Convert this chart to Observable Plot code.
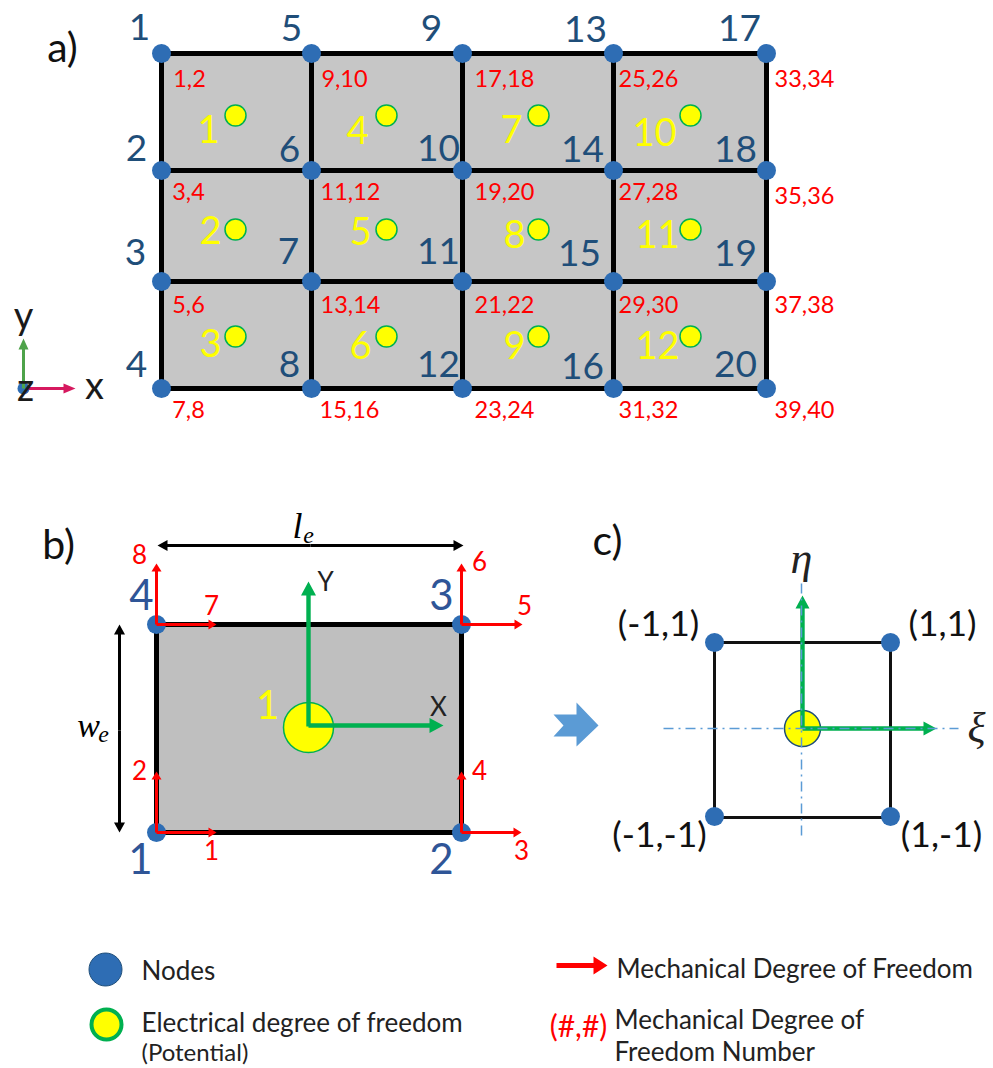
<!DOCTYPE html>
<html><head><meta charset="utf-8">
<script src="https://cdn.jsdelivr.net/npm/d3@7"></script>
<script src="https://cdn.jsdelivr.net/npm/@observablehq/plot@0.6"></script>
<style>html,body{margin:0;padding:0;background:#fff}svg{display:block}</style>
</head><body>
<div id="chart"></div>
<script>
// ---- panel a
const gridX = [161, 311, 462, 613, 766];
const gridY = [53, 170, 281, 388];
const centreX = [235, 386, 538, 690];
const centreY = [115, 229, 336];
const nodeLabelsA = [
  ["1",139,28],["5",291,29],["9",431,29],["13",585,30],["17",739,29],
  ["2",136,149],["6",289,150],["10",438,149],["14",582,150],["18",735,150],
  ["3",135,253],["7",288,252],["11",438,252],["15",579,254],["19",735,254],
  ["4",136,365],["8",289,365],["12",438,365],["16",582,367],["20",735,365]];
const dofLabelsA = [
  ["1,2",189,79],["9,10",344,79],["17,18",504,79],["25,26",648,79],["33,34",804,79],
  ["3,4",188,192],["11,12",350,192],["19,20",504,192],["27,28",648,192],["35,36",804,196],
  ["5,6",188,305],["13,14",350,305],["21,22",504,305],["29,30",648,305],["37,38",804,305],
  ["7,8",188,410],["15,16",349,410],["23,24",504,410],["31,32",648,410],["39,40",804,410]];
const elementLabels = [
  ["1",208,130],["2",210,231],["3",210,344],["4",357,131],["5",360,232],["6",360,346],
  ["7",511,130],["8",514,235],["9",514,346],["10",654,133],["11",657,235],["12",657,346]];
const triadLabels = [["y",23,316],["z",25,388],["x",94,386]];
const panelLetters = [["a)",62,48],["b)",58,545],["c)",607,541]];
// ---- panel b
const elemB = {x1:156, x2:461, y1:624, y2:832};
const nodesB = [[156,624],[461,624],[156,832],[461,832]];
const nodeLabelsB = [["4",141,596],["3",441,596],["1",140,860],["2",441,860]];
const redArrowsB = [
  [156,624,156,563],[156,624,216,624],[461,624,461,563],[461,624,522,624],
  [156,832,156,771],[156,832,216,832],[461,832,461,771],[461,832,521,832]];
const redLabelsB = [
  ["8",139,555],["7",211,606],["6",479,562],["5",524,606],
  ["2",139,771],["1",211,851],["4",479,771],["3",521,851]];
const greenArrowsB = [[308,726,308,581],[308,725,443,725]];
const blackArrows = [[310,545,157,545],[310,545,463,545],[119,730,119,624],[119,730,119,832]];
const axisLabelsB = [["Y",325,582],["X",438,707]];
// ---- panel c
const elemC = {x1:714, x2:890, y1:642, y2:817};
const nodesC = [[714,642],[890,642],[714,816],[890,816]];
const coordLabels = [["(-1,1)",658,624],["(1,1)",942,624],["(-1,-1)",659,835],["(1,-1)",941,835]];
const greenArrowsC = [[802,728,802,595],[802,728,936,728]];
const dashLines = [[663,728,958,728],[801,583,801,838]];
const bigArrow = [[553,714],[576,714],[576,702],[598,725],[576,746],[576,736],[553,736],[563,725]];
// ---- legend
const legendLeft = [["Nodes",141,971],["Electrical degree of freedom",141,1023]];
const legendLeftLine2 = [["(Potential)",141,1053]];
const legendRight = [["Mechanical Degree of Freedom",616,969],["Mechanical Degree of",614,1020],["Freedom Number",614,1052]];

const BLUE = "#2e6db4", NAVY = "#1f4e79", RED = "#ff0000", GREEN = "#00b050", BODY = "Lato, Carlito, sans-serif", MATH = "'Liberation Serif', serif";

const arrowShape = (s, h, hl) => ({draw(c, l) {
  c.moveTo(-s, 0); c.lineTo(-s, -(l - hl)); c.lineTo(-h, -(l - hl)); c.lineTo(0, -l);
  c.lineTo(h, -(l - hl)); c.lineTo(s, -(l - hl)); c.lineTo(s, 0); c.closePath();
}});
const arrows = (data, color, s, h, hl) => Plot.vector(data, {
  x: d => d[0], y: d => d[1],
  length: d => Math.hypot(d[2] - d[0], d[3] - d[1]),
  rotate: d => Math.atan2(d[2] - d[0], d[1] - d[3]) * 180 / Math.PI,
  anchor: "start", shape: arrowShape(s, h, hl), fill: color, stroke: "none"
});
const labels = (data, size, color, extra = {}) => Plot.text(data, {
  text: d => d[0], x: d => d[1], y: d => d[2], fontSize: size, fill: color, fontFamily: BODY, ...extra
});
const dots = (data, r, fill, stroke, sw) => Plot.dot(data, {x: d => d[0], y: d => d[1], r, fill, stroke, strokeWidth: sw});
const links = (data, stroke, strokeWidth, extra = {}) => Plot.link(data, {x1: d => d[0], y1: d => d[1], x2: d => d[2], y2: d => d[3], stroke, strokeWidth, ...extra});

const gridNodes = gridX.flatMap(x => gridY.map(y => [x, y]));
const centres = centreX.flatMap(x => centreY.map(y => [x, y]));
const gridLines = [
  ...gridX.map(x => [x, gridY[0], x, gridY[3]]),
  ...gridY.map(y => [gridX[0], y, gridX[4], y])];
const boxLines = e => [[e.x1,e.y1,e.x2,e.y1],[e.x2,e.y1,e.x2,e.y2],[e.x2,e.y2,e.x1,e.y2],[e.x1,e.y2,e.x1,e.y1]];

const chart = Plot.plot({
  width: 993, height: 1068, margin: 0,
  x: {axis: null, domain: [0, 993]},
  y: {axis: null, domain: [1068, 0]},
  length: {type: "identity"},
  style: {background: "#fff"},
  marks: [
    // panel a
    Plot.rect([0], {x1: gridX[0], x2: gridX[4], y1: gridY[0], y2: gridY[3], fill: "#c6c6c6"}),
    links(gridLines, "#000", 5),
    dots(gridNodes, 9.5, BLUE, "none", 0),
    dots(centres, 10.5, "#ffff00", "#00b050", 1.5),
    labels(nodeLabelsA, 37, NAVY),
    labels(dofLabelsA, 23.5, RED),
    labels(elementLabels, 38, "#ffff00"),
    dots([[23,388]], 6, BLUE, "none", 0),
    arrows([[23,388,23,338]], "#4ea34a", 1.5, 5, 11),
    arrows([[28,388,75,388]], "#d6195f", 1.5, 5, 12),
    labels(triadLabels, 38, "#1a1a1a"),
    labels(panelLetters, 41, "#111"),
    // panel b
    Plot.rect([0], {x1: elemB.x1, x2: elemB.x2, y1: elemB.y1, y2: elemB.y2, fill: "#bfbfbf"}),
    links(boxLines(elemB), "#000", 5),
    dots(nodesB, 9.5, BLUE, "none", 0),
    dots([[308,727]], 25, "#ffff00", "#00b050", 1.5),
    arrows(redArrowsB, RED, 1.5, 5, 8),
    arrows(greenArrowsB, GREEN, 2.2, 7.5, 14),
    arrows(blackArrows, "#000", 1.5, 5.5, 10),
    labels(nodeLabelsB, 42, "#2f5597"),
    labels(redLabelsB, 26, RED),
    labels([["1",267,706]], 40, "#ffff00"),
    labels(axisLabelsB, 26, "#222"),
    labels([["l",297,526]], 36, "#000", {fontFamily: MATH, fontStyle: "italic"}),
    labels([["e",308,535]], 24, "#000", {fontFamily: MATH, fontStyle: "italic"}),
    labels([["w",88,726]], 34, "#000", {fontFamily: MATH, fontStyle: "italic"}),
    labels([["e",103,734]], 24, "#000", {fontFamily: MATH, fontStyle: "italic"}),
    // panel c
    links(boxLines(elemC), "#111", 3),
    dots(nodesC, 9.5, BLUE, "none", 0),
    Plot.line(bigArrow, {x: d => d[0], y: d => d[1], fill: "#5b9bd5", stroke: "none"}),
    dots([[802,728]], 18, "#ffff00", NAVY, 1.5),
    arrows(greenArrowsC, GREEN, 2.2, 7, 13),
    links(dashLines, "#5b9bd5", 1.5, {strokeDasharray: "10,5,2,5"}),
    labels(coordLabels, 35.5, "#111"),
    labels([["η",801,558]], 44, "#222", {fontFamily: MATH, fontStyle: "italic"}),
    labels([["ξ",976,728]], 42, "#222", {fontFamily: MATH, fontStyle: "italic"}),
    // legend
    dots([[105,969]], 16.5, BLUE, "#1f4e79", 1),
    dots([[106,1024]], 15, "#ffff00", GREEN, 4),
    labels(legendLeft, 26, "#222", {textAnchor: "start"}),
    labels(legendLeftLine2, 24, "#222", {textAnchor: "start"}),
    labels(legendRight, 26, "#222", {textAnchor: "start"}),
    arrows([[556,965,607,965]], RED, 2.5, 9, 14),
    labels([["(#,#)",578,1027]], 30, RED)
  ]
});
document.getElementById("chart").append(chart);
</script>
</body></html>
